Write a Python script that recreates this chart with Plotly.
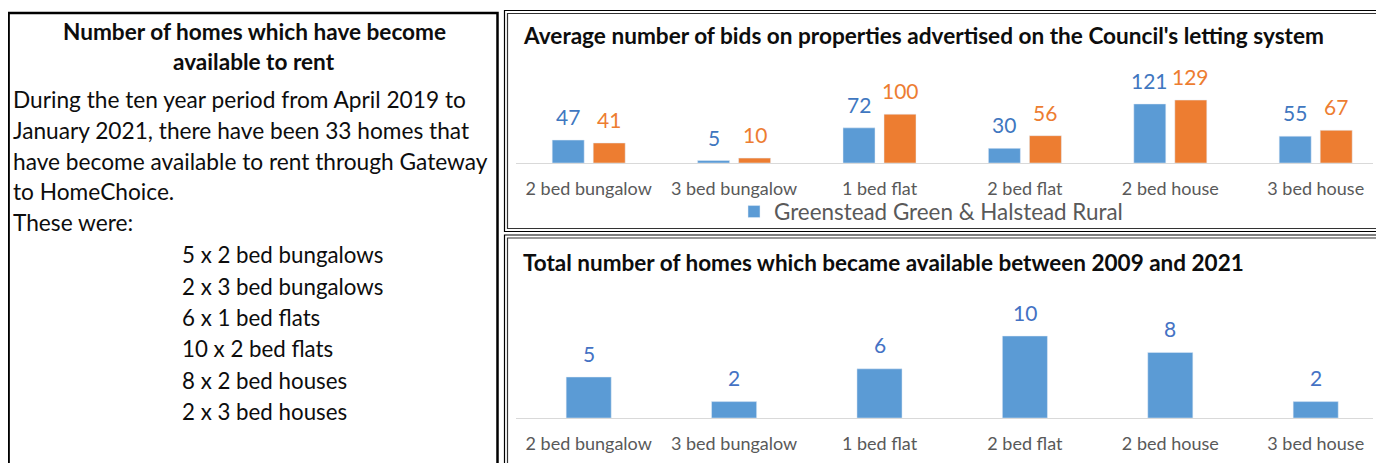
import plotly.graph_objects as go

# ---------------- data ----------------
categories = ["2 bed bungalow", "3 bed bungalow", "1 bed flat",
              "2 bed flat", "2 bed house", "3 bed house"]
bids_area = [47, 5, 72, 30, 121, 55]          # Greenstead Green & Halstead Rural
bids_other = [41, 10, 100, 56, 129, 67]       # comparison series (orange)
homes_total = [5, 2, 6, 10, 8, 2]

area_name = "Greenstead Green & Halstead Rural"
title_top = "Average number of bids on properties advertised on the Council's letting system"
title_bottom = "Total number of homes which became available between 2009 and 2021"
left_title = ["Number of homes which have become", "available to rent"]
left_body = ["During the ten year period from April 2019 to",
             "January 2021, there have been 33 homes that",
             "have become available to rent through Gateway",
             "to HomeChoice.",
             "These were:"]
left_list = ["5 x 2 bed bungalows", "2 x 3 bed bungalows", "6 x 1 bed flats",
             "10 x 2 bed flats", "8 x 2 bed houses", "2 x 3 bed houses"]

# ---------------- styling ----------------
OFF = 8                      # default page body margin
W, H = 1384 - OFF, 463 - OFF
FONT = "Lato"
BLUE, ORANGE = "#5B9BD5", "#ED7D31"
BLUE_TXT, BLUE_TXT2 = "#3F77C0", "#4472C4"
GREY = "#595959"


def fx(px):
    return (px - OFF) / W


def fy(py):
    return 1 - (py - OFF) / H


fig = go.Figure()

fig.add_trace(go.Bar(x=categories, y=bids_area, name=area_name, marker_color=BLUE,
                     width=0.22, offset=-0.251, xaxis="x", yaxis="y",
                     showlegend=True))
fig.add_trace(go.Bar(x=categories, y=bids_other, name="Other", marker_color=ORANGE,
                     width=0.22, offset=0.031, xaxis="x", yaxis="y",
                     showlegend=False))
fig.add_trace(go.Bar(x=categories, y=homes_total, name="Total", marker_color=BLUE,
                     width=0.31, xaxis="x2", yaxis="y2", showlegend=False))

annotations = []
for c, v in zip(categories, bids_area):
    annotations.append(dict(x=c, y=v, xref="x", yref="y", text=str(v), showarrow=False,
                            xshift=-20.5, yshift=23.5, yanchor="middle",
                            font=dict(family=FONT, size=21, color=BLUE_TXT)))
for c, v in zip(categories, bids_other):
    annotations.append(dict(x=c, y=v, xref="x", yref="y", text=str(v), showarrow=False,
                            xshift=20.5, yshift=23.5, yanchor="middle",
                            font=dict(family=FONT, size=21, color=ORANGE)))
for c, v in zip(categories, homes_total):
    annotations.append(dict(x=c, y=v, xref="x2", yref="y2", text=str(v), showarrow=False,
                            yshift=24, yanchor="middle",
                            font=dict(family=FONT, size=21, color=BLUE_TXT2)))

# chart titles
annotations.append(dict(x=fx(521), y=fy(35), xref="paper", yref="paper", xanchor="left",
                        yanchor="middle", showarrow=False, text="<b>%s</b>" % title_top,
                        font=dict(family=FONT, size=22.6, color="#0d0d0d")))
annotations.append(dict(x=fx(521), y=fy(262), xref="paper", yref="paper", xanchor="left",
                        yanchor="middle", showarrow=False, text="<b>%s</b>" % title_bottom,
                        font=dict(family=FONT, size=22.5, color="#0d0d0d")))

# left panel text
for i, t in enumerate(left_title):
    annotations.append(dict(x=fx(254), y=fy(31 + 30 * i), xref="paper", yref="paper",
                            xanchor="center", yanchor="middle", showarrow=False,
                            text="<b>%s</b>" % t,
                            font=dict(family=FONT, size=22.6, color="#0d0d0d")))
for i, t in enumerate(left_body):
    annotations.append(dict(x=fx(11), y=fy(100 + 30.5 * i), xref="paper", yref="paper",
                            xanchor="left", yanchor="middle", showarrow=False, text=t,
                            font=dict(family=FONT, size=22.7, color="#0d0d0d")))
for i, t in enumerate(left_list):
    annotations.append(dict(x=fx(180), y=fy(255 + 31.3 * i), xref="paper", yref="paper",
                            xanchor="left", yanchor="middle", showarrow=False, text=t,
                            font=dict(family=FONT, size=22.3, color="#0d0d0d")))

# borders
shapes = []
shapes.append(dict(type="rect", xref="paper", yref="paper", x0=fx(8.6), x1=fx(497.5),
                   y0=fy(13), y1=fy(480), line=dict(color="black", width=2.5)))
# top right panel (double border)
shapes.append(dict(type="rect", xref="paper", yref="paper", x0=fx(504.5), x1=fx(1400),
                   y0=fy(10.5), y1=fy(231.5), line=dict(color="black", width=1.2)))
shapes.append(dict(type="rect", xref="paper", yref="paper", x0=fx(507.5), x1=fx(1400),
                   y0=fy(13.5), y1=fy(228.5), line=dict(color="#333333", width=1.2)))
# bottom right panel (double border)
shapes.append(dict(type="rect", xref="paper", yref="paper", x0=fx(504.5), x1=fx(1400),
                   y0=fy(235), y1=fy(480), line=dict(color="black", width=1.2)))
shapes.append(dict(type="rect", xref="paper", yref="paper", x0=fx(507.5), x1=fx(1400),
                   y0=fy(238), y1=fy(480), line=dict(color="#333333", width=1.2)))

# axes geometry
PX_L, PX_R = 516, 1373
STEP = 145.4
xr = [-0.5, -0.5 + (PX_R - PX_L) / STEP]

top_base, top_top, top_scale = 163, 70, 0.488
bot_base, bot_top, bot_scale = 418, 290, 8.2

xcommon = dict(type="category", showgrid=False, zeroline=False, showline=True,
               linecolor="#D9D9D9", linewidth=1, ticks="outside", ticklen=9,
               tickcolor="rgba(0,0,0,0)", tickfont=dict(family=FONT, size=18, color=GREY),
               range=xr, fixedrange=True)
ycommon = dict(showgrid=False, zeroline=False, showticklabels=False, showline=False,
               fixedrange=True)

fig.update_layout(
    width=W, height=H,
    margin=dict(l=0, r=0, t=0, b=0),
    paper_bgcolor="white", plot_bgcolor="white",
    barmode="overlay",
    font=dict(family=FONT),
    xaxis=dict(domain=[fx(PX_L), fx(PX_R)], anchor="y", **xcommon),
    yaxis=dict(domain=[fy(top_base), fy(top_top)], anchor="x",
               range=[0, (top_base - top_top) / top_scale], **ycommon),
    xaxis2=dict(domain=[fx(PX_L), fx(PX_R)], anchor="y2", **xcommon),
    yaxis2=dict(domain=[fy(bot_base), fy(bot_top)], anchor="x2",
                range=[0, (bot_base - bot_top) / bot_scale], **ycommon),
    legend=dict(orientation="h", x=fx(931), y=fy(212), xanchor="center", yanchor="middle",
                font=dict(family=FONT, size=22.4, color=GREY), bgcolor="rgba(0,0,0,0)"),
    annotations=annotations,
    shapes=shapes,
)

fig.write_html("out.html")
